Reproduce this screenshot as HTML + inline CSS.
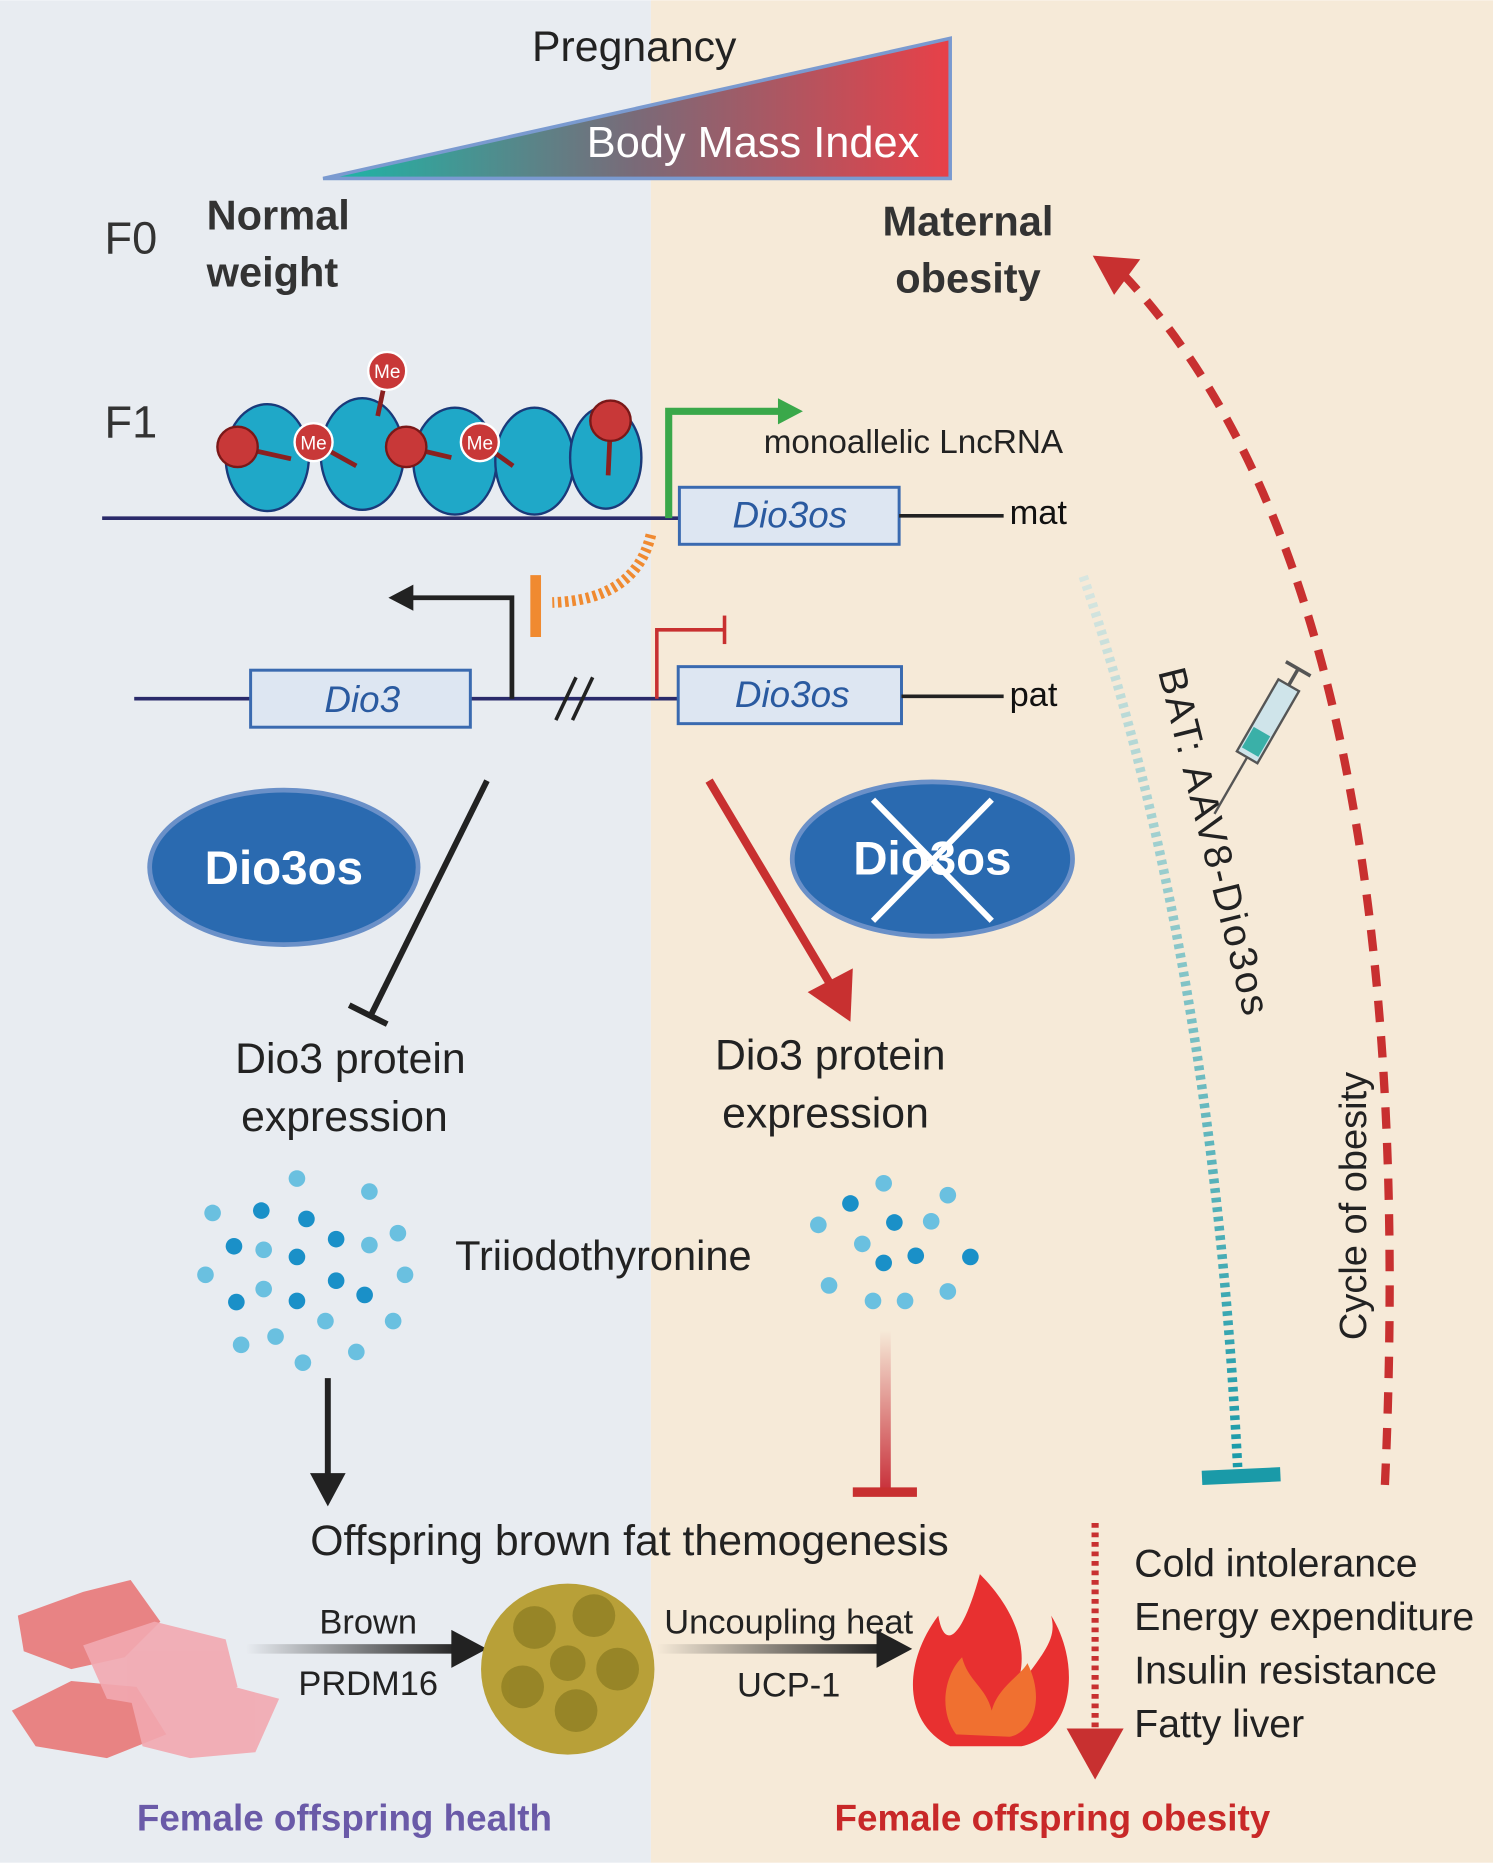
<!DOCTYPE html>
<html><head><meta charset="utf-8"><style>
html,body{margin:0;padding:0;width:1493px;height:1863px;overflow:hidden}
svg{display:block}
text{font-family:"Liberation Sans",sans-serif}
</style></head><body>
<svg width="1493" height="1863" viewBox="0 0 1257 1568" xmlns="http://www.w3.org/2000/svg">
<defs>
<linearGradient id="tri" x1="0" x2="1" y1="0" y2="0">
<stop offset="0" stop-color="#1ab8a8"/><stop offset="0.5" stop-color="#7a6a78"/><stop offset="1" stop-color="#e84048"/></linearGradient>
<linearGradient id="ar1" x1="0" x2="1"><stop offset="0" stop-color="#e8ecf1"/><stop offset="1" stop-color="#222"/></linearGradient>
<linearGradient id="ar2" x1="0" x2="1"><stop offset="0" stop-color="#f6ead8"/><stop offset="1" stop-color="#222"/></linearGradient>
<linearGradient id="rd" x1="0" y1="0" x2="0" y2="1"><stop offset="0" stop-color="#f6ead8"/><stop offset="1" stop-color="#c8303a"/></linearGradient>
<linearGradient id="tl" x1="0" y1="0" x2="0" y2="1"><stop offset="0" stop-color="#d8e6e0"/><stop offset="1" stop-color="#1a9aa8"/></linearGradient>
</defs>
<rect width="548" height="1568" fill="#e8ecf1"/>
<rect x="548" width="709" height="1568" fill="#f6ead8"/>
<polygon points="272,150 800,32 800,150" fill="url(#tri)" stroke="#7a9ad0" stroke-width="3"/>
<text x="534" y="51" font-size="36" text-anchor="middle" fill="#222">Pregnancy</text>
<text x="634" y="132" font-size="36.5" text-anchor="middle" fill="#fff">Body Mass Index</text>
<text x="88" y="213" font-size="38" fill="#333">F0</text>
<text x="174" y="193" font-size="35" font-weight="bold" fill="#333">Normal</text>
<text x="174" y="241" font-size="35" font-weight="bold" fill="#333">weight</text>
<text x="815" y="198" font-size="35" font-weight="bold" fill="#333" text-anchor="middle">Maternal</text>
<text x="815" y="246" font-size="35" font-weight="bold" fill="#333" text-anchor="middle">obesity</text>
<text x="88" y="368" font-size="38" fill="#333">F1</text>
<line x1="86" y1="436" x2="572" y2="436" stroke="#2a2a6a" stroke-width="3"/>
<g fill="#1fa8c8" stroke="#1a3a7a" stroke-width="2">
<ellipse cx="225" cy="385" rx="35" ry="45"/><ellipse cx="305" cy="382" rx="35" ry="47"/>
<ellipse cx="383" cy="388" rx="35" ry="45"/><ellipse cx="450" cy="388" rx="33" ry="45"/><ellipse cx="510" cy="385" rx="30" ry="43"/>
</g>
<g stroke="#8a2020" stroke-width="4"><line x1="200" y1="376" x2="245" y2="386"/><line x1="264" y1="372" x2="300" y2="392"/><line x1="326" y1="312" x2="318" y2="350"/><line x1="342" y1="376" x2="380" y2="385"/><line x1="404" y1="372" x2="432" y2="392"/><line x1="514" y1="356" x2="512" y2="400"/></g>
<g fill="#c83838" stroke="#7a1818" stroke-width="2"><circle cx="200" cy="376" r="17"/><circle cx="342" cy="376" r="17"/><circle cx="514" cy="354" r="17"/></g>
<g fill="#c83838" stroke="#fff" stroke-width="2"><circle cx="264" cy="372" r="16"/><circle cx="326" cy="312" r="16"/><circle cx="404" cy="372" r="16"/></g>
<g fill="#fff" font-size="16" text-anchor="middle"><text x="264" y="378">Me</text><text x="326" y="318">Me</text><text x="404" y="378">Me</text></g>
<polyline points="563,436 563,346 660,346" fill="none" stroke="#3aa84a" stroke-width="6"/>
<polygon points="655,335 676,346 655,357" fill="#3aa84a"/>
<text x="643" y="381" font-size="28" fill="#222">monoallelic  LncRNA</text>
<rect x="572" y="410" width="185" height="48" fill="#dde6f2" stroke="#3a6ab0" stroke-width="2.5"/>
<text x="665" y="444" font-size="31" font-style="italic" fill="#2a5aa0" text-anchor="middle">Dio3os</text>
<line x1="757" y1="434" x2="845" y2="434" stroke="#222" stroke-width="3"/>
<text x="850" y="441" font-size="29" fill="#111">mat</text>
<path d="M548,450 Q535,505 465,507" fill="none" stroke="#f08a30" stroke-width="9" stroke-dasharray="3,3"/>
<line x1="451" y1="484" x2="451" y2="536" stroke="#f08a30" stroke-width="9"/>
<line x1="113" y1="588" x2="570" y2="588" stroke="#2a2a6a" stroke-width="3"/>
<rect x="211" y="564" width="185" height="48" fill="#dde6f2" stroke="#3a6ab0" stroke-width="2.5"/>
<text x="305" y="599" font-size="31" font-style="italic" fill="#2a5aa0" text-anchor="middle">Dio3</text>
<polyline points="431,588 431,503 345,503" fill="none" stroke="#222" stroke-width="4"/>
<polygon points="348,492 327,503 348,514" fill="#222"/>
<line x1="468" y1="606" x2="485" y2="570" stroke="#222" stroke-width="3"/><line x1="482" y1="606" x2="499" y2="570" stroke="#222" stroke-width="3"/>
<polyline points="553,588 553,530 610,530" fill="none" stroke="#c83030" stroke-width="3"/>
<line x1="610" y1="518" x2="610" y2="542" stroke="#c83030" stroke-width="3"/>
<rect x="571" y="561" width="188" height="48" fill="#dde6f2" stroke="#3a6ab0" stroke-width="2.5"/>
<text x="667" y="595" font-size="31" font-style="italic" fill="#2a5aa0" text-anchor="middle">Dio3os</text>
<line x1="759" y1="586" x2="845" y2="586" stroke="#222" stroke-width="3"/>
<text x="850" y="594" font-size="29" fill="#111">pat</text>
<ellipse cx="239" cy="730" rx="113" ry="65" fill="#2a6ab0" stroke="#6a90c8" stroke-width="4"/>
<text x="239" y="744" font-size="40" font-weight="bold" fill="#fff" text-anchor="middle">Dio3os</text>
<ellipse cx="785" cy="723" rx="118" ry="65" fill="#2a6ab0" stroke="#6a90c8" stroke-width="4"/>
<text x="785" y="736" font-size="40" font-weight="bold" fill="#fff" text-anchor="middle">Dio3os</text>
<line x1="735" y1="673" x2="835" y2="775" stroke="#fff" stroke-width="5"/><line x1="835" y1="673" x2="735" y2="775" stroke="#fff" stroke-width="5"/>
<line x1="410" y1="657" x2="312" y2="855" stroke="#222" stroke-width="5"/>
<line x1="294" y1="846" x2="326" y2="862" stroke="#222" stroke-width="5"/>
<line x1="597" y1="657" x2="700" y2="830" stroke="#c83030" stroke-width="7"/>
<polygon points="680,835 716,860 718,815" fill="#c83030"/>
<g font-size="36" fill="#222" text-anchor="middle">
<text x="295" y="903">Dio3 protein</text><text x="290" y="952">expression</text>
<text x="699" y="900">Dio3 protein</text><text x="695" y="949">expression</text>
<text x="508" y="1069" font-size="35">Triiodothyronine</text>
<text x="530" y="1309" font-size="36">Offspring brown fat  themogenesis</text>
</g>
<g fill="#6ac0e0">
<circle cx="250" cy="992" r="7"/><circle cx="311" cy="1003" r="7"/><circle cx="179" cy="1021" r="7"/><circle cx="335" cy="1038" r="7"/><circle cx="222" cy="1052" r="7"/><circle cx="311" cy="1048" r="7"/><circle cx="173" cy="1073" r="7"/><circle cx="341" cy="1073" r="7"/><circle cx="222" cy="1085" r="7"/><circle cx="274" cy="1112" r="7"/><circle cx="331" cy="1112" r="7"/><circle cx="203" cy="1132" r="7"/><circle cx="232" cy="1125" r="7"/><circle cx="300" cy="1138" r="7"/><circle cx="255" cy="1147" r="7"/>
<circle cx="744" cy="996" r="7"/><circle cx="798" cy="1006" r="7"/><circle cx="689" cy="1031" r="7"/><circle cx="784" cy="1028" r="7"/><circle cx="726" cy="1047" r="7"/><circle cx="698" cy="1082" r="7"/><circle cx="798" cy="1087" r="7"/><circle cx="735" cy="1095" r="7"/><circle cx="762" cy="1095" r="7"/>
</g>
<g fill="#1a90c8">
<circle cx="220" cy="1019" r="7"/><circle cx="258" cy="1026" r="7"/><circle cx="197" cy="1049" r="7"/><circle cx="283" cy="1043" r="7"/><circle cx="250" cy="1058" r="7"/><circle cx="283" cy="1078" r="7"/><circle cx="307" cy="1090" r="7"/><circle cx="199" cy="1096" r="7"/><circle cx="250" cy="1095" r="7"/>
<circle cx="716" cy="1013" r="7"/><circle cx="753" cy="1029" r="7"/><circle cx="744" cy="1063" r="7"/><circle cx="771" cy="1057" r="7"/><circle cx="817" cy="1058" r="7"/>
</g>
<line x1="276" y1="1160" x2="276" y2="1245" stroke="#222" stroke-width="5"/>
<polygon points="261,1240 276,1268 291,1240" fill="#222"/>
<rect x="741" y="1120" width="9" height="135" fill="url(#rd)"/>
<line x1="718" y1="1256" x2="772" y2="1256" stroke="#c83030" stroke-width="8"/>
<path d="M912,485 Q1020,800 1042,1235" fill="none" stroke="url(#tl)" stroke-width="8" stroke-dasharray="4,4"/>
<line x1="1012" y1="1244" x2="1078" y2="1241" stroke="#1a9aa8" stroke-width="12"/>
<text transform="translate(975,565) rotate(76)" font-size="33" fill="#222" textLength="300">BAT: AAV8-Dio3os</text>
<g transform="translate(1060,620) rotate(30)"><rect x="-10" y="-50" width="20" height="70" fill="#cfe4ea" stroke="#555" stroke-width="2"/><rect x="-8" y="-5" width="16" height="20" fill="#3ab0a8"/><line x1="0" y1="-50" x2="0" y2="-65" stroke="#555" stroke-width="3"/><line x1="-12" y1="-66" x2="12" y2="-66" stroke="#555" stroke-width="3"/><line x1="0" y1="20" x2="0" y2="75" stroke="#555" stroke-width="2"/></g>
<path d="M1166,1250 Q1200,500 945,230" fill="none" stroke="#c83030" stroke-width="7" stroke-dasharray="18,12"/>
<polygon points="920,215 960,218 938,248" fill="#c83030"/>
<text transform="translate(1150,1128) rotate(-90)" font-size="32" fill="#222">Cycle of obesity</text>
<line x1="922" y1="1282" x2="922" y2="1455" stroke="#c83030" stroke-width="6" stroke-dasharray="4,4"/>
<polygon points="898,1455 922,1498 946,1455" fill="#c83030"/>
<g font-size="33" fill="#222"><text x="955" y="1327">Cold intolerance</text><text x="955" y="1372">Energy expenditure</text><text x="955" y="1417">Insulin resistance</text><text x="955" y="1462">Fatty liver</text></g>
<g fill="#e87878" opacity="0.9"><polygon points="15,1360 70,1340 110,1330 135,1365 105,1395 60,1405 20,1390"/><polygon points="10,1440 60,1415 115,1420 140,1460 90,1480 30,1470"/></g>
<g fill="#f2a8b0" opacity="0.9"><polygon points="70,1385 130,1365 190,1380 200,1420 150,1440 90,1430"/><polygon points="110,1430 160,1410 235,1430 215,1475 160,1480 120,1470"/></g>
<rect x="207" y="1384" width="180" height="8" fill="url(#ar1)"/>
<polygon points="380,1372 410,1388 380,1404" fill="#222"/>
<text x="310" y="1375" font-size="29" fill="#222" text-anchor="middle">Brown</text>
<text x="310" y="1427" font-size="29" fill="#222" text-anchor="middle">PRDM16</text>
<ellipse cx="478" cy="1405" rx="73" ry="72" fill="#b8a038"/>
<g fill="#8a7a20" opacity="0.7"><circle cx="450" cy="1370" r="18"/><circle cx="500" cy="1360" r="18"/><circle cx="520" cy="1405" r="18"/><circle cx="440" cy="1420" r="18"/><circle cx="485" cy="1440" r="18"/><circle cx="478" cy="1400" r="15"/></g>
<rect x="553" y="1384" width="190" height="8" fill="url(#ar2)"/>
<polygon points="738,1372 768,1388 738,1404" fill="#222"/>
<text x="664" y="1375" font-size="29" fill="#222" text-anchor="middle">Uncoupling heat</text>
<text x="664" y="1428" font-size="29" fill="#222" text-anchor="middle">UCP-1</text>
<path d="M800,1470 C760,1450 760,1400 790,1360 C795,1390 810,1380 825,1325 C860,1360 870,1400 850,1430 C880,1390 890,1380 885,1360 C910,1400 905,1460 860,1470 Z" fill="#e83030"/>
<path d="M805,1460 C790,1440 795,1410 810,1395 C815,1415 830,1420 835,1440 C840,1420 860,1410 865,1400 C880,1430 870,1458 850,1462 Z" fill="#f07030"/>
<text x="290" y="1541" font-size="31" font-weight="bold" fill="#6a5aa8" text-anchor="middle">Female offspring health</text>
<text x="886" y="1541" font-size="31" font-weight="bold" fill="#c82828" text-anchor="middle">Female offspring obesity</text>
</svg>
</body></html>
